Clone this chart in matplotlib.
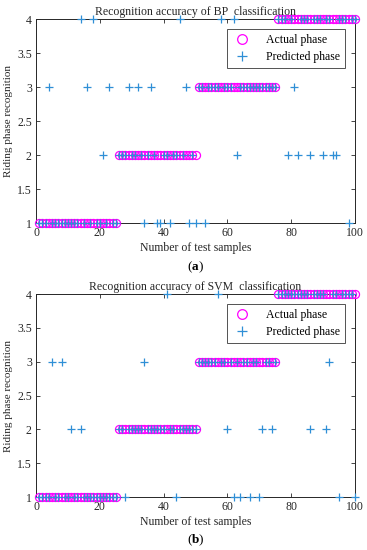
import matplotlib
matplotlib.use("Agg")
import matplotlib.pyplot as plt
import numpy as np

plt.rcParams['font.family'] = ['Liberation Serif', 'DejaVu Serif']
plt.rcParams['mathtext.fontset'] = 'custom'
plt.rcParams['mathtext.rm'] = 'Liberation Serif'
plt.rcParams['mathtext.bf'] = 'Liberation Serif:bold'

samples = list(range(1, 101))
actual_phase = [1]*25 + [2]*25 + [3]*25 + [4]*25

bp_predicted = [
    1, 1, 1, 3, 1, 1, 1, 1, 1, 1, 1, 1, 1, 4, 1, 3, 1, 4, 1, 1, 2, 1, 3, 1, 1,
    2, 2, 2, 3, 2, 2, 3, 2, 1, 2, 3, 2, 1, 1, 2, 2, 1, 2, 2, 4, 2, 3, 1, 2, 1,
    3, 3, 1, 3, 3, 3, 3, 4, 3, 3, 3, 4, 2, 3, 3, 3, 3, 3, 3, 3, 3, 3, 3, 3, 3,
    4, 4, 4, 2, 4, 3, 2, 4, 4, 4, 2, 4, 4, 4, 2, 4, 4, 2, 2, 4, 4, 4, 1, 4, 4,
]
svm_predicted = [
    1, 1, 1, 1, 3, 1, 1, 3, 1, 1, 2, 1, 1, 2, 1, 1, 1, 1, 1, 1, 1, 1, 1, 1, 1,
    2, 2, 1, 2, 2, 2, 2, 2, 3, 2, 2, 2, 2, 2, 2, 4, 2, 2, 1, 2, 2, 2, 2, 2, 2,
    3, 3, 3, 3, 3, 3, 4, 3, 3, 2, 3, 1, 3, 1, 3, 3, 1, 3, 3, 1, 2, 3, 3, 2, 3,
    4, 4, 4, 4, 4, 4, 4, 4, 4, 4, 2, 4, 4, 4, 4, 2, 3, 4, 4, 1, 4, 4, 4, 4, 1,
]

titles = ["Recognition accuracy of BP  classification",
          "Recognition accuracy of SVM  classification"]
panel_labels = ["a", "b"]
xticks = [0, 20, 40, 60, 80, 100]
yticks = [1, 1.5, 2, 2.5, 3, 3.5, 4]
ytick_labels = ["1", "1.5", "2", "2.5", "3", "3.5", "4"]

W, H = 367, 550
fig = plt.figure(figsize=(W/100, H/100), dpi=100)

axes_px = [(36, 19, 355, 223), (36, 294, 355, 497)]
label_y = [267, 540]
preds = [bp_predicted, svm_predicted]

edge = '#262626'
blue = '#2F8FD6'
for i in range(2):
    l, t, r, b = axes_px[i]
    ax = fig.add_axes([l/W, 1 - b/H, (r-l)/W, (b-t)/H])
    ax.plot(samples, actual_phase, linestyle='none', marker='o', markersize=5.8,
            markerfacecolor='none', markeredgecolor='#FF00FF', markeredgewidth=0.9,
            label='Actual phase', clip_on=False, zorder=3)
    ax.plot(samples, preds[i], linestyle='none', marker='+', markersize=6.3,
            color=blue, markeredgewidth=0.9, label='Predicted phase',
            clip_on=False, zorder=4)
    ax.set_xlim(0, 100)
    ax.set_ylim(1, 4)
    ax.set_xticks(xticks)
    ax.set_yticks(yticks)
    ax.set_yticklabels(ytick_labels)
    ax.tick_params(direction='in', length=3, width=0.6, top=True, right=True,
                   labelsize=8.5, colors=edge, pad=3)
    for s in ax.spines.values():
        s.set_color(edge)
        s.set_linewidth(0.7)
    ax.set_title(titles[i], fontsize=8.5, color=edge, pad=3)
    ax.set_xlabel('Number of test samples', fontsize=8.5, color=edge, labelpad=2)
    ax.set_ylabel('Riding phase recognition', fontsize=8, color=edge)
    ax.yaxis.set_label_coords(-0.072, 0.5)
    leg = ax.legend(loc='upper right', bbox_to_anchor=(0.969, 0.951), fontsize=8.5,
                    borderaxespad=0, frameon=True, fancybox=False, edgecolor=edge,
                    handletextpad=1.2, borderpad=0.45, labelspacing=0.4,
                    handlelength=1.6, markerscale=1.2)
    leg.get_frame().set_linewidth(0.7)
    fig.text((l + r)/2/W, 1 - label_y[i]/H, r'($\mathbf{' + panel_labels[i] + r'}$)',
             ha='center', va='center', fontsize=9.5, color='black')

fig.savefig('out.png', dpi=100)
